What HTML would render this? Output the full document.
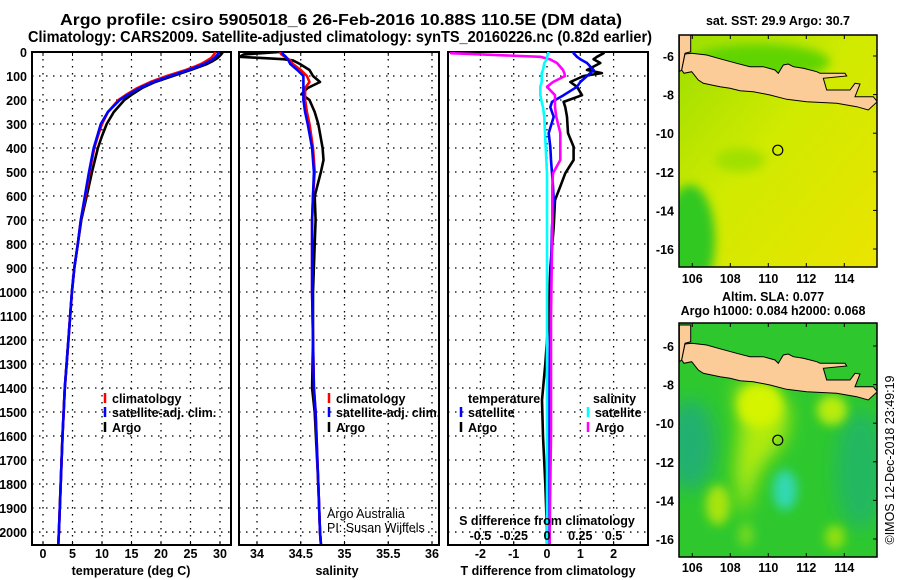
<!DOCTYPE html>
<html><head><meta charset="utf-8">
<style>
html,body{margin:0;padding:0;background:#fff;}
svg{display:block;font-family:"Liberation Sans",Arial,sans-serif;}
.b{font-weight:bold;font-size:12.5px;}
.t{font-weight:bold;font-size:15.5px;}
</style></head>
<body>
<svg id="c" width="900" height="580" viewBox="0 0 900 580" xmlns="http://www.w3.org/2000/svg">
<defs>
<filter id="blur" x="-50%" y="-50%" width="200%" height="200%"><feGaussianBlur stdDeviation="9"/></filter>
<filter id="blur2" x="-50%" y="-50%" width="200%" height="200%"><feGaussianBlur stdDeviation="5"/></filter>
<clipPath id="clipTop"><rect x="679" y="35" width="198" height="232"/></clipPath>
<clipPath id="clipBot"><rect x="679" y="323" width="198" height="234"/></clipPath>
<clipPath id="cp1"><rect x="32" y="52" width="199" height="493"/></clipPath>
<clipPath id="cp2"><rect x="239" y="52" width="200" height="493"/></clipPath>
<clipPath id="cp3"><rect x="448" y="52" width="200" height="493"/></clipPath>
<linearGradient id="sstGrad" x1="0" y1="0" x2="1" y2="1">
<stop offset="0" stop-color="#9ade00"/><stop offset="0.45" stop-color="#d0ea00"/><stop offset="1" stop-color="#ebe400"/>
</linearGradient>
</defs>
<text class="t" x="60" y="25" textLength="562" lengthAdjust="spacingAndGlyphs">Argo profile: csiro 5905018_6 26-Feb-2016 10.88S 110.5E (DM data)</text>
<text class="t" x="28" y="42" textLength="624" lengthAdjust="spacingAndGlyphs">Climatology: CARS2009. Satellite-adjusted climatology: synTS_20160226.nc (0.82d earlier)</text>
<g id="plots"></g>
<g id="maps"></g>
</svg>
<script>
// ---------- data ----------
const depth = [0,10,25,40,50,60,75,100,125,150,175,200,250,300,350,400,500,600,700,800,900,1000,1200,1400,1600,1800,2000,2050];
const tClim = [29.2,29.0,28.5,27.5,26.8,25.8,24.2,21.0,18.2,16.0,14.3,12.8,11.0,10.0,9.3,8.7,7.9,7.2,6.4,5.9,5.3,4.9,4.3,3.7,3.3,3.0,2.7,2.6];
const tSat  = [29.8,29.6,29.1,28.1,27.3,26.3,24.7,21.6,18.7,16.4,14.6,13.0,11.0,9.8,9.2,8.6,7.8,7.1,6.4,5.9,5.3,4.9,4.3,3.7,3.3,3.0,2.7,2.6];
const tArgo = [30.5,30.2,29.6,28.6,27.8,26.7,25.0,22.0,19.0,16.8,15.2,13.8,12.0,10.8,10.0,9.3,8.3,7.4,6.5,5.9,5.3,4.9,4.3,3.7,3.3,3.0,2.7,2.6];
const sDepth = [0,10,20,30,35,50,75,100,125,150,175,200,250,300,400,450,500,600,700,800,1000,1200,1400,1500,1800,2000,2050];
const sClim = [34.26,34.28,34.32,34.36,34.38,34.41,34.5,34.57,34.6,34.55,34.55,34.55,34.57,34.6,34.64,34.65,34.66,34.64,34.63,34.63,34.63,34.64,34.65,34.67,34.7,34.72,34.73];
const sSat  = [34.28,34.3,34.33,34.35,34.36,34.38,34.46,34.53,34.53,34.53,34.53,34.53,34.55,34.58,34.63,34.64,34.65,34.64,34.63,34.63,34.63,34.64,34.65,34.67,34.7,34.72,34.73];
const sArgo = [34.26,33.85,33.8,34.3,34.41,34.49,34.6,34.64,34.72,34.58,34.51,34.6,34.66,34.7,34.75,34.76,34.73,34.66,34.67,34.66,34.64,34.64,34.63,34.66,34.7,34.72,34.73];
const dDepth = [0,5,20,30,46,75,88,100,125,145,180,208,230,270,338,395,450,505,560,617,730,900,1100,1300,1450,1600,1800,2000,2050];
const dTSat  = [0.8,0.8,0.9,1.0,1.2,1.4,1.3,1.2,1.0,0.9,0.5,0.15,0.1,0.2,0.05,0.1,0.12,0.15,0.18,0.2,0.15,0.12,0.1,0.08,0.06,0.05,0.04,0.03,0.03];
const dTArgo = [1.7,1.7,1.5,1.4,1.6,1.2,1.65,1.1,0.7,0.9,1.05,0.5,0.55,0.6,0.63,0.8,0.8,0.55,0.4,0.24,0.2,0.1,0.05,-0.05,-0.15,-0.12,-0.05,0.0,0.0];
const dSSat  = [0.01,0.01,0.0,0.0,-0.02,-0.03,-0.04,-0.04,-0.04,-0.05,-0.05,-0.04,-0.03,-0.02,-0.015,-0.01,-0.005,0.0,0.0,0.0,0.0,0.0,0.0,0.0,0.0,0.0,0.0,0.0,0.0];
const dSArgo = [-0.72,-0.72,-0.05,0.02,0.075,0.12,0.13,0.135,0.045,0.0,0.06,0.06,0.06,0.07,0.1,0.1,0.1,0.045,0.04,0.04,0.04,0.035,0.03,0.03,0.03,0.03,0.025,0.02,0.02];
const tTicks = [0,5,10,15,20,25,30];
const sTicks = [34,34.5,35,35.5,36];
const sTickLabels = ["34","34.5","35","35.5","36"];
const dTicks = [-2,-1,0,1,2];
const dSTicks = [-0.5,-0.25,0,0.25,0.5];
const depthTicks = [0,100,200,300,400,500,600,700,800,900,1000,1100,1200,1300,1400,1500,1600,1700,1800,1900,2000];
const lonTicks = [106,108,110,112,114];
const latTicks = [-6,-8,-10,-12,-14,-16];
const argoLon = 110.5, argoLat = -10.88;

// ---------- helpers ----------
const NS = "http://www.w3.org/2000/svg";
function el(tag, attrs, parent){ const e=document.createElementNS(NS,tag); for(const k in attrs) e.setAttribute(k,attrs[k]); (parent||document.getElementById('plots')).appendChild(e); return e; }
function txt(s, attrs, parent){ const e=el('text',attrs,parent); e.textContent=s; return e; }
const yTop=52, yBot=545, dMax=2054;
const yD = d => yTop + d/dMax*(yBot-yTop);
const xT = t => 43 + t*5.9;
const xS = s => 257 + (s-34)*87.5;
const xDT = t => 547 + t*33.3;
const xDS = s => xDT(s*4);
const P = document.getElementById('plots');

function frame(x0,x1,name,ticks,xf,labels,showDepth){
  const g=el('g',{},P);
  
  
  depthTicks.forEach(d=>{ if(d>0) el('line',{x1:x0,x2:x1,y1:yD(d),y2:yD(d),stroke:'#000','stroke-width':1.3,'stroke-dasharray':'1.5 5.5'},g); });
  ticks.forEach((t,i)=>{ const x=xf(t);
    el('line',{x1:x,x2:x,y1:yTop,y2:yBot,stroke:'#000','stroke-width':1.3,'stroke-dasharray':'1.5 5.5'},g);
    el('line',{x1:x,x2:x,y1:yBot,y2:yBot-4,stroke:'#000','stroke-width':1},g);
    el('line',{x1:x,x2:x,y1:yTop,y2:yTop+4,stroke:'#000','stroke-width':1},g);
    const tl=txt(labels[i],{x:x,y:558,'text-anchor':'middle',class:'b'},g);
    
    
  });
  el('rect',{x:x0,y:yTop,width:x1-x0,height:yBot-yTop,fill:'none',stroke:'#000','stroke-width':2},g);
  if(showDepth){
    depthTicks.forEach(d=>{ const tl=txt(String(d),{x:27,y:yD(d)+5,'text-anchor':'end',class:'b'},g);
      
       });
  }
  return g;
}
function line(xs,ds,xf,color,clip,name){
  const pts=xs.map((v,i)=>xf(v).toFixed(1)+','+yD(ds[i]).toFixed(1)).join(' ');
  const p=el('polyline',{points:pts,fill:'none',stroke:color,'stroke-width':2.6,'stroke-linejoin':'round','clip-path':'url(#'+clip+')'},P);
  
  
}
function legendItem(x,y,color,label,name){
  if(color) el('line',{x1:x,x2:x,y1:y-10,y2:y,stroke:color,'stroke-width':2.5},P);
  const t=txt(label,{x:x+7,y:y,class:'b'},P);
  
  
}

// panel 1 temperature
frame(32,231,'temperature-panel',tTicks,xT,tTicks.map(String),true);
line(tArgo,depth,xT,'#000','cp1','temperature-argo-line');
line(tClim,depth,xT,'#f00','cp1','temperature-climatology-line');
line(tSat,depth,xT,'#00f','cp1','temperature-satellite-line');
let a=txt('temperature (deg C)',{x:131,y:575,'text-anchor':'middle',class:'b'},P);


legendItem(105,403,'#f00','climatology','legend-climatology');
legendItem(105,417,'#00f','satellite-adj. clim.','legend-satellite-adj');
legendItem(105,432,'#000','Argo','legend-argo');

// panel 2 salinity
frame(239,439,'salinity-panel',sTicks,xS,sTickLabels,false);
line(sArgo,sDepth,xS,'#000','cp2','salinity-argo-line');
line(sClim,sDepth,xS,'#f00','cp2','salinity-climatology-line');
line(sSat,sDepth,xS,'#00f','cp2','salinity-satellite-line');
a=txt('salinity',{x:337,y:575,'text-anchor':'middle',class:'b'},P);


legendItem(329,403,'#f00','climatology','legend-climatology-2');
legendItem(329,417,'#00f','satellite-adj. clim.','legend-satellite-adj-2');
legendItem(329,432,'#000','Argo','legend-argo-2');
a=txt('Argo Australia',{x:327,y:518,'font-size':'12.5px'},P);


a=txt('PI: Susan Wijffels',{x:327,y:532,'font-size':'12.5px'},P);



// panel 3 differences
frame(448,648,'difference-panel',dTicks,xDT,dTicks.map(String),false);
line(dTArgo,dDepth,xDT,'#000','cp3','t-diff-argo-line');
line(dTSat,dDepth,xDT,'#00f','cp3','t-diff-satellite-line');
line(dSArgo,dDepth,xDS,'#f0f','cp3','s-diff-argo-line');
line(dSSat,dDepth,xDS,'#0ff','cp3','s-diff-satellite-line');
a=txt('T difference from climatology',{x:548,y:575,'text-anchor':'middle',class:'b'},P);


a=txt('S difference from climatology',{x:547,y:525,'text-anchor':'middle',class:'b'},P);


dSTicks.forEach(s=>{ const t=txt('',{x:xDS(s),y:540,'text-anchor':'middle',class:'b'},P);
  t.textContent = s===0?'0':(s<0?'-':'')+'0'+String(Math.abs(s)).slice(1);
  
   });
legendItem(461,403,null,'temperature','legend-temperature-header');
P.lastChild.setAttribute('x',468);
legendItem(461,417,'#00f','satellite','legend-t-satellite');
legendItem(461,432,'#000','Argo','legend-t-argo');
legendItem(588,403,null,'salinity','legend-salinity-header');
P.lastChild.setAttribute('x',593);
legendItem(588,417,'#0ff','satellite','legend-s-satellite');
legendItem(588,432,'#f0f','Argo','legend-s-argo');

// ---------- maps ----------
const M=document.getElementById('maps');
const landZ=[[95,100],[140,105],[175,115],[230,130],[270,140],[310,140],[345,150],[355,160],[370,135],[385,132],[400,140],[430,145],[470,155],[480,160],[555,160],[560,168],[490,175],[500,210],[570,210],[585,190],[600,192],[585,230],[640,230],[652,245],[625,270],[590,260],[530,250],[440,245],[380,238],[330,225],[280,215],[240,212],[210,205],[180,200],[130,190],[115,180],[95,155],[72,160],[65,150],[75,102]];
const sumZ=[[58,45],[92,45],[92,95],[75,100],[65,150],[58,155]];
function landPts(arr,yoff){ return arr.map(p=>(660+p[0]/3).toFixed(1)+','+(yoff+p[1]/3).toFixed(1)).join(' '); }
function mapFrame(name,latY0){
  const g=el('g',{},M);
  
  
  const lx = lon => 679 + (lon-105.3)*19;
  const ly = lat => latY0 + (-6-lat)*19.3;
  return {g,lx,ly};
}
// top SST map
let m=mapFrame('sst-map',56);
let cg=el('g',{'clip-path':'url(#clipTop)'},m.g);
el('rect',{x:679,y:35,width:198,height:232,fill:'url(#sstGrad)'},cg);
el('ellipse',{cx:690,cy:240,rx:25,ry:55,fill:'#30c820',filter:'url(#blur2)'},cg);
el('ellipse',{cx:760,cy:62,rx:70,ry:18,fill:'#60d400',filter:'url(#blur2)'},cg);
el('ellipse',{cx:740,cy:160,rx:25,ry:12,fill:'#a0e000',filter:'url(#blur2)'},cg);
el('polygon',{points:landPts(sumZ,20),fill:'#fccc98',stroke:'#000','stroke-width':1},cg);
el('polygon',{points:landPts(landZ,20),fill:'#fccc98',stroke:'#000','stroke-width':1},cg);
el('rect',{x:679,y:35,width:198,height:232,fill:'none',stroke:'#000','stroke-width':1.5},m.g);
let ci=el('circle',{cx:m.lx(argoLon),cy:m.ly(argoLat),r:5,fill:'none',stroke:'#000','stroke-width':1.2},m.g);


a=txt('sat. SST: 29.9 Argo: 30.7',{x:778,y:25,'text-anchor':'middle',class:'b','font-size':'12px'},m.g);


lonTicks.forEach(l=>{ el('line',{x1:m.lx(l),x2:m.lx(l),y1:267,y2:263,stroke:'#000'},m.g); el('line',{x1:m.lx(l),x2:m.lx(l),y1:35,y2:39,stroke:'#000'},m.g);
  const t=txt(String(l),{x:m.lx(l),y:283,'text-anchor':'middle',class:'b'},m.g);
  
   });
latTicks.forEach(l=>{ el('line',{x1:877,x2:873,y1:m.ly(l),y2:m.ly(l),stroke:'#000'},m.g);
  const t=txt(String(l),{x:674,y:m.ly(l)+5,'text-anchor':'end',class:'b'},m.g);
  
   });

// bottom SLA map
m=mapFrame('sla-map',346);
cg=el('g',{'clip-path':'url(#clipBot)'},m.g);
el('rect',{x:679,y:323,width:198,height:234,fill:'#2ec82e'},cg);
el('ellipse',{cx:690,cy:445,rx:25,ry:45,fill:'#20b070',filter:'url(#blur)'},cg);
el('ellipse',{cx:860,cy:470,rx:25,ry:60,fill:'#20b860',filter:'url(#blur)'},cg);
el('polygon',{points:'735,385 770,385 790,410 785,440 760,470 742,520 735,470 740,430',fill:'#b0ea10',filter:'url(#blur)'},cg);
el('ellipse',{cx:760,cy:405,rx:22,ry:22,fill:'#d4f400',filter:'url(#blur2)'},cg);
el('ellipse',{cx:785,cy:490,rx:12,ry:20,fill:'#30d8b0',filter:'url(#blur2)'},cg);
el('ellipse',{cx:832,cy:410,rx:15,ry:15,fill:'#b8ec10',filter:'url(#blur2)'},cg);
el('ellipse',{cx:718,cy:505,rx:12,ry:20,fill:'#a8e410',filter:'url(#blur2)'},cg);
el('ellipse',{cx:835,cy:537,rx:10,ry:12,fill:'#90e010',filter:'url(#blur2)'},cg);
el('ellipse',{cx:746,cy:535,rx:8,ry:12,fill:'#70d820',filter:'url(#blur2)'},cg);
el('polygon',{points:landPts(sumZ,310),fill:'#fccc98',stroke:'#000','stroke-width':1},cg);
el('polygon',{points:landPts(landZ,310),fill:'#fccc98',stroke:'#000','stroke-width':1},cg);
el('rect',{x:679,y:323,width:198,height:234,fill:'none',stroke:'#000','stroke-width':1.5},m.g);
ci=el('circle',{cx:m.lx(argoLon),cy:m.ly(argoLat),r:5,fill:'none',stroke:'#000','stroke-width':1.2},m.g);


a=txt('Altim. SLA: 0.077',{x:773,y:301,'text-anchor':'middle',class:'b','font-size':'12px'},m.g);


a=txt('Argo h1000: 0.084 h2000: 0.068',{x:773,y:315,'text-anchor':'middle',class:'b','font-size':'12px'},m.g);


lonTicks.forEach(l=>{ el('line',{x1:m.lx(l),x2:m.lx(l),y1:557,y2:553,stroke:'#000'},m.g); el('line',{x1:m.lx(l),x2:m.lx(l),y1:323,y2:327,stroke:'#000'},m.g);
  const t=txt(String(l),{x:m.lx(l),y:572,'text-anchor':'middle',class:'b'},m.g);
  
   });
latTicks.forEach(l=>{ el('line',{x1:877,x2:873,y1:m.ly(l),y2:m.ly(l),stroke:'#000'},m.g);
  const t=txt(String(l),{x:674,y:m.ly(l)+5,'text-anchor':'end',class:'b'},m.g);
  
   });
a=txt('©IMOS 12-Dec-2018 23:49:19',{x:0,y:0,'font-size':'12.5px','text-anchor':'middle',transform:'translate(894,460) rotate(-90)'},M);


</script>
</body></html>
